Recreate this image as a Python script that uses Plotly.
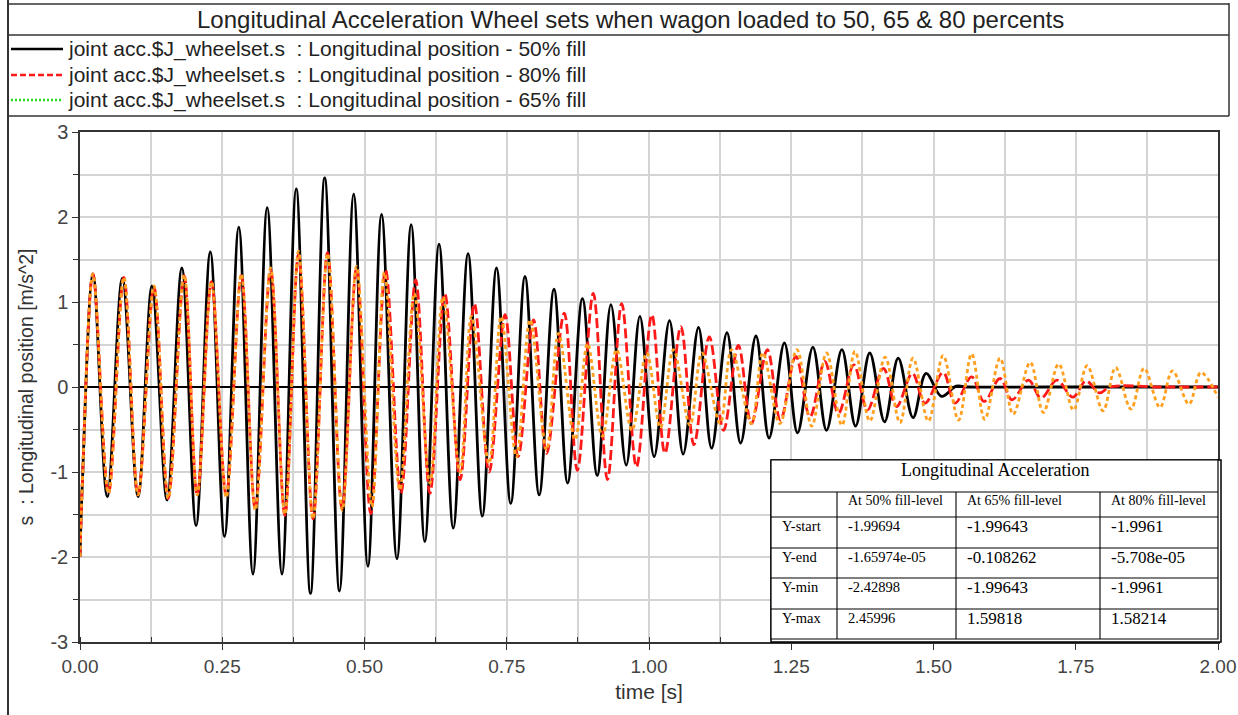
import plotly.graph_objects as go

# ---------------- data ----------------
# extrema of each curve (time [s], value [m/s^2]); start value -2 at t=0
t50 = [0.0, 0.004, 0.0228, 0.048, 0.0744, 0.102, 0.1265, 0.153, 0.179, 0.204, 0.229, 0.254,
       0.279, 0.304, 0.329, 0.355, 0.380, 0.405, 0.430, 0.456, 0.481, 0.506, 0.530, 0.557,
       0.582, 0.606, 0.631, 0.656, 0.682, 0.707, 0.732, 0.757, 0.782, 0.807, 0.833, 0.857,
       0.883, 0.909, 0.933, 0.960, 0.984, 1.009, 1.036, 1.060, 1.087, 1.110, 1.137, 1.161,
       1.188, 1.211, 1.238, 1.261, 1.288, 1.312, 1.339, 1.363, 1.388, 1.414, 1.438, 1.464,
       1.487, 1.514, 1.540, 1.560, 1.700, 1.850, 2.0]
y50 = [-1.997, -1.15, 1.33, -1.29, 1.28, -1.29, 1.19, -1.33, 1.40, -1.63, 1.59, -1.76,
       1.88, -2.20, 2.11, -2.20, 2.33, -2.429, 2.46, -2.40, 2.27, -2.11, 2.03, -2.02,
       1.91, -1.82, 1.68, -1.66, 1.57, -1.52, 1.40, -1.37, 1.30, -1.27, 1.15, -1.13,
       1.04, -1.04, 0.97, -0.92, 0.83, -0.82, 0.78, -0.79, 0.70, -0.72, 0.64, -0.66,
       0.60, -0.60, 0.52, -0.54, 0.47, -0.51, 0.44, -0.46, 0.40, -0.41, 0.34, -0.36,
       0.16, -0.11, 0.01, 0.0, 0.0, 0.0, 0.0]

t80 = [0.0, 0.004, 0.0228, 0.050, 0.077, 0.102, 0.130, 0.155, 0.183, 0.206, 0.231, 0.257,
       0.2835, 0.308, 0.335, 0.360, 0.384, 0.4095, 0.435, 0.4605, 0.486, 0.511, 0.537, 0.564,
       0.590, 0.615, 0.641, 0.668, 0.693, 0.719, 0.747, 0.770, 0.797, 0.820, 0.851, 0.874,
       0.902, 0.927, 0.952, 0.978, 1.005, 1.028, 1.056, 1.079, 1.106, 1.131, 1.157, 1.180,
       1.208, 1.231, 1.258, 1.283, 1.309, 1.333, 1.360, 1.384, 1.412, 1.435, 1.463, 1.485,
       1.517, 1.538, 1.567, 1.589, 1.617, 1.638, 1.667, 1.689, 1.717, 1.745, 1.768, 1.792,
       1.810, 1.900, 2.0]
y80 = [-1.996, -1.15, 1.33, -1.25, 1.29, -1.27, 1.18, -1.31, 1.31, -1.27, 1.24, -1.27,
       1.31, -1.43, 1.38, -1.51, 1.56, -1.55, 1.582, -1.43, 1.40, -1.49, 1.38, -1.25,
       1.26, -1.25, 1.10, -1.09, 0.98, -1.00, 0.85, -0.82, 0.79, -0.78, 0.87, -0.98,
       1.10, -1.09, 0.98, -0.94, 0.85, -0.78, 0.71, -0.68, 0.59, -0.51, 0.49, -0.43,
       0.44, -0.39, 0.36, -0.35, 0.30, -0.31, 0.26, -0.27, 0.22, -0.23, 0.16, -0.19,
       0.17, -0.19, 0.12, -0.17, 0.10, -0.15, 0.08, -0.13, 0.08, -0.12, 0.07, -0.07,
       0.0, 0.0, 0.0]

t65 = [0.0, 0.004, 0.0228, 0.050, 0.077, 0.102, 0.130, 0.155, 0.183, 0.206, 0.231, 0.257,
       0.2835, 0.308, 0.335, 0.360, 0.384, 0.4095, 0.435, 0.461, 0.486, 0.513, 0.535, 0.562,
       0.5875, 0.615, 0.638, 0.668, 0.688, 0.719, 0.740, 0.767, 0.791, 0.820, 0.841, 0.870,
       0.892, 0.918, 0.943, 0.970, 0.996, 1.020, 1.043, 1.072, 1.093, 1.125, 1.145, 1.180,
       1.200, 1.230, 1.260, 1.286, 1.312, 1.339, 1.362, 1.388, 1.415, 1.441, 1.464, 1.491,
       1.517, 1.544, 1.567, 1.590, 1.617, 1.640, 1.670, 1.693, 1.720, 1.746, 1.770, 1.798,
       1.820, 1.847, 1.870, 1.898, 1.920, 1.949, 1.970, 2.0]
y65 = [-1.996, -1.15, 1.33, -1.25, 1.29, -1.27, 1.19, -1.31, 1.32, -1.27, 1.24, -1.30,
       1.33, -1.45, 1.40, -1.50, 1.598, -1.55, 1.57, -1.45, 1.42, -1.41, 1.35, -1.21,
       1.10, -1.13, 1.06, -1.00, 0.83, -0.90, 0.83, -0.82, 0.79, -0.74, 0.63, -0.62,
       0.51, -0.58, 0.44, -0.51, 0.40, -0.48, 0.44, -0.45, 0.40, -0.43, 0.44, -0.43,
       0.40, -0.43, 0.44, -0.46, 0.40, -0.45, 0.42, -0.40, 0.35, -0.42, 0.34, -0.40,
       0.37, -0.39, 0.39, -0.38, 0.34, -0.32, 0.29, -0.30, 0.27, -0.27, 0.25, -0.28,
       0.23, -0.26, 0.22, -0.24, 0.19, -0.20, 0.17, -0.12]

legend_labels = [
    "joint acc.$J_wheelset.s\u00a0\u00a0: Longitudinal position - 50% fill",
    "joint acc.$J_wheelset.s\u00a0\u00a0: Longitudinal position - 80% fill",
    "joint acc.$J_wheelset.s\u00a0\u00a0: Longitudinal position - 65% fill",
]
chart_title = "Longitudinal Acceleration Wheel sets when wagon loaded to 50, 65 & 80 percents"
table_title = "Longitudinal Acceleration"
table_cols = ["At 50% fill-level", "At 65% fill-level", "At 80% fill-level"]
table_rows = ["Y-start", "Y-end", "Y-min", "Y-max"]
table_vals = [
    ["-1.99694", "-1.99643", "-1.9961"],
    ["-1.65974e-05", "-0.108262", "-5.708e-05"],
    ["-2.42898", "-1.99643", "-1.9961"],
    ["2.45996", "1.59818", "1.58214"],
]
x_ticks = [0, 0.25, 0.5, 0.75, 1.0, 1.25, 1.5, 1.75, 2.0]
x_ticktext = ["0.00", "0.25", "0.50", "0.75", "1.00", "1.25", "1.50", "1.75", "2.00"]
y_ticks = [-3, -2, -1, 0, 1, 2, 3]
y_ticktext = ["-3", "-2", "-1", "0", "1", "2", "3"]

# ---------------- layout geometry (pixels) ----------------
W, H = 1238, 715
PL, PR, PT, PB = 80, 1218, 132, 642


def px(x):
    return (x - PL) / (PR - PL)


def py(y):
    return (PB - y) / (PB - PT)


fig = go.Figure()
fig.add_trace(go.Scatter(x=t50, y=y50, mode="lines",
                         line=dict(color="black", width=2.8, shape="spline", smoothing=1.0), showlegend=False))
fig.add_trace(go.Scatter(x=t80, y=y80, mode="lines",
                         line=dict(color="#ff1a1a", width=2.8, dash="10px,4px", shape="spline", smoothing=1.0), showlegend=False))
fig.add_trace(go.Scatter(x=t65, y=y65, mode="lines",
                         line=dict(color="#ffa020", width=2.8, dash="4px,3px", shape="spline", smoothing=1.0), showlegend=False))

shapes = []
annotations = []
FONT = "Liberation Sans, Arial, sans-serif"
SERIF = "Liberation Serif, Times New Roman, serif"


def hline(x0, x1, y, w=1.5, color="#333"):
    shapes.append(dict(type="line", xref="paper", yref="paper", x0=px(x0), x1=px(x1), y0=py(y), y1=py(y),
                       line=dict(color=color, width=w), layer="above"))


def vline(x, y0, y1, w=1.5, color="#333"):
    shapes.append(dict(type="line", xref="paper", yref="paper", x0=px(x), x1=px(x), y0=py(y0), y1=py(y1),
                       line=dict(color=color, width=w), layer="above"))


# outer frame / header boxes
vline(8, 0, 715, 2)
vline(1229, 3, 116, 1.5)
hline(8, 1229, 4, 1.5)
hline(8, 1229, 35, 1.5)
hline(8, 1229, 116, 1.5)

annotations.append(dict(text=chart_title, xref="paper", yref="paper", x=px(630), y=py(20), showarrow=False,
                        font=dict(family=FONT, size=24, color="#222"), xanchor="center", yanchor="middle"))

leg_styles = [dict(color="black", dash="solid"), dict(color="#ff1a1a", dash="6px,3px"), dict(color="#22dd22", dash="2px,2px")]
leg_y = [49, 75, 100]
for lab, st, ly in zip(legend_labels, leg_styles, leg_y):
    shapes.append(dict(type="line", xref="paper", yref="paper", x0=px(11), x1=px(63), y0=py(ly), y1=py(ly),
                       line=dict(color=st["color"], width=2.4, dash=st["dash"]), layer="above"))
    annotations.append(dict(text=lab, xref="paper", yref="paper", x=px(66), y=py(ly), showarrow=False,
                            font=dict(family=FONT, size=21, color="#222"), xanchor="left", yanchor="middle"))

# table
TX0, TX1, TY0, TY1 = 771, 1218, 460, 639
col_x = [TX0, 837, 956, 1100, TX1]
row_y = [492, 517, 548, 578, 609, TY1]
shapes.append(dict(type="rect", xref="paper", yref="paper", x0=px(TX0), x1=px(TX1 + 3), y0=py(TY0), y1=py(TY1 + 3),
                   fillcolor="white", line=dict(color="black", width=1.5), layer="above"))
shapes.append(dict(type="rect", xref="paper", yref="paper", x0=px(TX0), x1=px(TX1), y0=py(TY0), y1=py(TY1),
                   fillcolor="white", line=dict(color="black", width=1.2), layer="above"))
for yy in row_y[:-1]:
    hline(TX0, TX1, yy, 1.1, "black")
for xx in col_x[1:-1]:
    vline(xx, row_y[0], TY1, 1.1, "black")

annotations.append(dict(text=table_title, xref="paper", yref="paper", x=px((TX0 + TX1) / 2), y=py(470), showarrow=False,
                        font=dict(family=SERIF, size=18, color="black"), xanchor="center", yanchor="middle"))
for j, c in enumerate(table_cols):
    annotations.append(dict(text=c, xref="paper", yref="paper", x=px(col_x[j + 1] + 9), y=py(500), showarrow=False,
                            font=dict(family=SERIF, size=14, color="black"), xanchor="left", yanchor="middle"))
for i, r in enumerate(table_rows):
    yc = row_y[i + 1] + 9
    annotations.append(dict(text=r, xref="paper", yref="paper", x=px(TX0 + 9), y=py(yc), showarrow=False,
                            font=dict(family=SERIF, size=14.5, color="black"), xanchor="left", yanchor="middle"))
    for j, v in enumerate(table_vals[i]):
        annotations.append(dict(text=v, xref="paper", yref="paper", x=px(col_x[j + 1] + 9), y=py(yc), showarrow=False,
                                font=dict(family=SERIF, size=14.5 if j == 0 else 17, color="black"),
                                xanchor="left", yanchor="middle"))

fig.update_layout(
    width=W, height=H,
    margin=dict(l=PL, r=W - PR, t=PT, b=H - PB, pad=0, autoexpand=False),
    paper_bgcolor="white", plot_bgcolor="white",
    showlegend=False,
    shapes=shapes, annotations=annotations,
    font=dict(family=FONT, size=15, color="#444"),
)
fig.update_xaxes(
    range=[0, 2.0], tickvals=x_ticks, ticktext=x_ticktext, automargin=False,
    showgrid=True, gridcolor="#d4d4d4", gridwidth=1.5,
    minor=dict(dtick=0.125, showgrid=True, gridcolor="#d4d4d4", gridwidth=1.5, ticks="inside", ticklen=5, tickcolor="#333"),
    ticks="outside", ticklen=6, tickcolor="#333",
    showline=True, linecolor="#333", linewidth=1.5, mirror=True,
    zeroline=False,
    title=dict(text="time [s]", font=dict(family=FONT, size=21, color="#333"), standoff=9),
    tickfont=dict(family=FONT, size=19, color="#444"),
)
fig.update_yaxes(
    range=[-3, 3], tickvals=y_ticks, ticktext=y_ticktext, automargin=False,
    showgrid=True, gridcolor="#d4d4d4", gridwidth=1.5,
    minor=dict(dtick=0.5, showgrid=True, gridcolor="#d4d4d4", gridwidth=1.5, ticks="outside", ticklen=5, tickcolor="#333"),
    ticks="outside", ticklen=6, tickcolor="#333",
    showline=True, linecolor="#333", linewidth=1.5, mirror=True,
    zeroline=True, zerolinecolor="black", zerolinewidth=1.5,
    title=dict(text="s\u00a0\u00a0: Longitudinal position [m/s^2]", font=dict(family=FONT, size=19.5, color="#333"), standoff=12),
    tickfont=dict(family=FONT, size=20, color="#444"),
)

fig.write_html("out.html")
